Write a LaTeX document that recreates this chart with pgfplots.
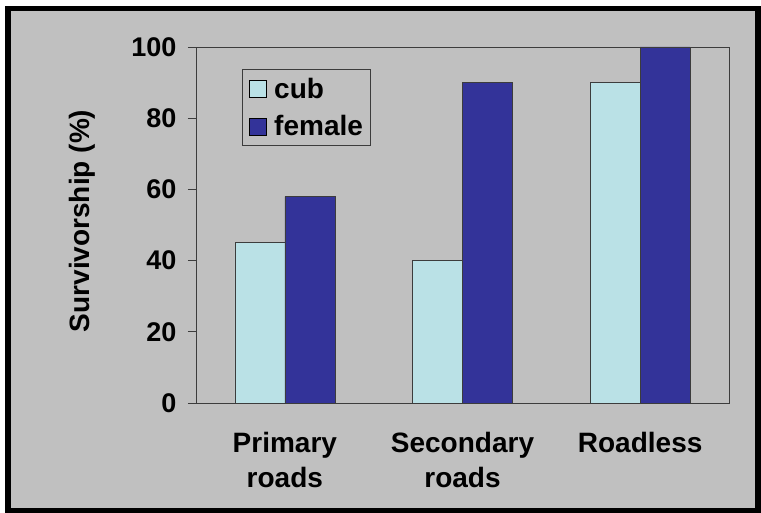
\documentclass[border=0pt]{standalone}
\usepackage{pgfplots}
\pgfplotsset{compat=1.18}
\usepackage{fontspec}
\setmainfont{Liberation Sans}

\definecolor{bggray}{RGB}{192,192,192}
\definecolor{cubcol}{RGB}{186,225,230}
\definecolor{femcol}{RGB}{51,51,153}
\definecolor{edgecol}{RGB}{60,60,60}

\newcommand{\tickf}{\bfseries\fontsize{27}{35}\selectfont}
\newcommand{\labf}{\bfseries\fontsize{28}{35}\selectfont}

\begin{document}
\begin{tikzpicture}[x=1pt,y=1pt]
    \useasboundingbox (0,0) rectangle (761,513);
    \fill[white] (0,0) rectangle (761,513);
    \fill[black] (5,0) rectangle (761,507);
    \fill[bggray] (11,5) rectangle (755,502);

    \begin{axis}[
        at={(196pt,110pt)}, anchor=south west,
        scale only axis, width=533pt, height=356pt,
        xmin=-0.5, xmax=2.5,
        ymin=0, ymax=100,
        ytick={0,20,...,100},
        xtick={0,1,2},
        xticklabels={{Primary\\roads},{Secondary\\roads},{Roadless}},
        extra x ticks={-0.5,0.5,1.5,2.5},
        extra x tick labels={},
        extra x tick style={major tick length=7pt, major tick style={draw=edgecol, line width=0.8pt}},
        major x tick style={draw=none},
        tick align=outside,
        major tick length=8pt,
        xtick pos=bottom, ytick pos=left,
        axis line style={draw=edgecol, line width=0.8pt},
        tick style={draw=edgecol, line width=0.8pt},
        /pgf/number format/assume math mode=true,
        tick label style={font=\tickf, text=black},
        yticklabel style={xshift=-8pt},
        x tick label style={align=center, font=\labf, yshift=-18pt},
        ylabel={Survivorship (\%)},
        every axis y label/.style={at={(rel axis cs:0,0.5)}, xshift=-114pt, yshift=4pt, rotate=90, anchor=center, font=\labf},
        ybar=0pt, bar width=50pt,
        legend style={at={(0.086,0.937)}, anchor=north west, fill=bggray, draw=edgecol, line width=0.8pt,
            font=\labf, inner xsep=5pt, inner ysep=6pt, row sep=12pt,
            nodes={inner sep=2pt}, cells={anchor=west}},
        legend image code/.code={
            \draw[#1, draw=black, line width=0.6pt] (0pt,-8.5pt) rectangle (17pt,8.5pt);
            \path[draw=none, fill=none] (-2pt,0pt) -- (23pt,0pt);},
    ]
    \addplot[fill=cubcol, draw=edgecol, line width=0.6pt] coordinates {(0,45) (1,40) (2,90)};
    \addplot[fill=femcol, draw=edgecol, line width=0.6pt] coordinates {(0,58) (1,90) (2,100)};
    \legend{cub, female}
    \end{axis}
\end{tikzpicture}
\end{document}
